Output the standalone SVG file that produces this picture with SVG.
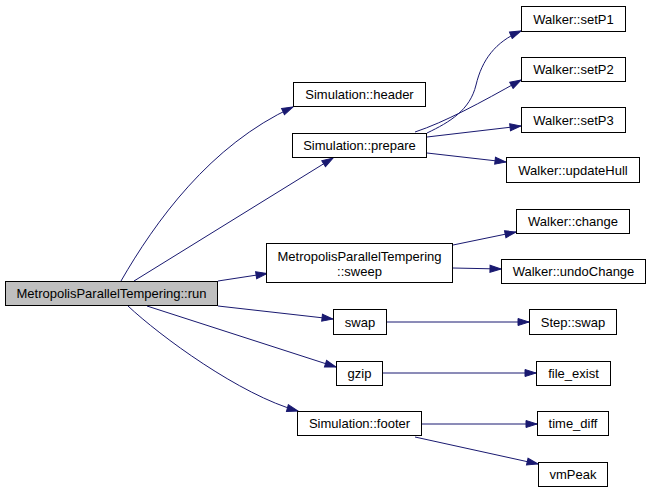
<svg xmlns="http://www.w3.org/2000/svg" width="651" height="493" viewBox="0 0 651 493">
<style>
  .box { fill: #ffffff; stroke: #000000; stroke-width: 1; }
  .main { fill: #bfbfbf; stroke: #000000; stroke-width: 1; }
  text { font-family: "Liberation Sans", Arial, sans-serif; font-size: 13px; fill: #000000; text-anchor: middle; }
  .edge { fill: none; stroke: #191970; stroke-width: 1; }
</style>
<defs>
  <marker id="arr" markerUnits="userSpaceOnUse" viewBox="-1 -1 13 9" refX="11" refY="3.5" markerWidth="13" markerHeight="9" orient="auto">
    <path d="M0,0 L11,3.5 L0,7 z" fill="#191970" stroke="#191970" stroke-width="1"/>
  </marker>
</defs>
<rect width="651" height="493" fill="#ffffff"/>
<g id="edges">
  <path class="edge" marker-end="url(#arr)" d="M121,281 C155,222 210,145 293,107"/>
  <path class="edge" marker-end="url(#arr)" d="M134,281 L333,158"/>
  <path class="edge" marker-end="url(#arr)" d="M218,281 L267,273.5"/>
  <path class="edge" marker-end="url(#arr)" d="M218,306 L333,319"/>
  <path class="edge" marker-end="url(#arr)" d="M147,306 L336,367"/>
  <path class="edge" marker-end="url(#arr)" d="M128,306 C160,336 240,395 298,411"/>
  <path class="edge" marker-end="url(#arr)" d="M427,133 C450,122 470,110 476,85 C482,60 495,42 521,31"/>
  <path class="edge" marker-end="url(#arr)" d="M415,132 C445,122 480,103 521,80"/>
  <path class="edge" marker-end="url(#arr)" d="M427,137 L521,126"/>
  <path class="edge" marker-end="url(#arr)" d="M427,153 L506,162"/>
  <path class="edge" marker-end="url(#arr)" d="M453,245 L516,232"/>
  <path class="edge" marker-end="url(#arr)" d="M453,268 L501,269"/>
  <path class="edge" marker-end="url(#arr)" d="M387,322 L529,322"/>
  <path class="edge" marker-end="url(#arr)" d="M383,373 L536,373"/>
  <path class="edge" marker-end="url(#arr)" d="M422,424 L537,424"/>
  <path class="edge" marker-end="url(#arr)" d="M415,437 L538,464"/>
</g>
<g id="run"><rect class="main" x="5.5" y="281.5" width="212" height="24"/><text x="111.5" y="298">MetropolisParallelTempering::run</text></g>
<g id="header"><rect class="box" x="293.5" y="82.5" width="132" height="24"/><text x="359.5" y="99">Simulation::header</text></g>
<g id="prepare"><rect class="box" x="292.5" y="133.5" width="134" height="24"/><text x="359.5" y="150">Simulation::prepare</text></g>
<g id="sweep"><rect class="box" x="266.5" y="243.5" width="186" height="39"/><text x="359.5" y="260.5">MetropolisParallelTempering</text><text x="359.5" y="276">::sweep</text></g>
<g id="swap"><rect class="box" x="333.5" y="309.5" width="53" height="25"/><text x="360" y="326.5">swap</text></g>
<g id="gzip"><rect class="box" x="336.5" y="361.5" width="46" height="24"/><text x="359.5" y="378">gzip</text></g>
<g id="footer"><rect class="box" x="297.5" y="411.5" width="124" height="24"/><text x="359.5" y="428">Simulation::footer</text></g>
<g id="setP1"><rect class="box" x="521.5" y="6.5" width="104" height="25"/><text x="573.5" y="23.5">Walker::setP1</text></g>
<g id="setP2"><rect class="box" x="521.5" y="57.5" width="104" height="24"/><text x="573.5" y="74">Walker::setP2</text></g>
<g id="setP3"><rect class="box" x="521.5" y="107.5" width="104" height="25"/><text x="573.5" y="124.5">Walker::setP3</text></g>
<g id="updateHull"><rect class="box" x="506.5" y="157.5" width="133" height="25"/><text x="573" y="174.5">Walker::updateHull</text></g>
<g id="change"><rect class="box" x="516.5" y="209.5" width="113" height="24"/><text x="573" y="226">Walker::change</text></g>
<g id="undoChange"><rect class="box" x="501.5" y="259.5" width="144" height="24"/><text x="573.5" y="276">Walker::undoChange</text></g>
<g id="stepswap"><rect class="box" x="529.5" y="309.5" width="87" height="25"/><text x="573" y="326.5">Step::swap</text></g>
<g id="file_exist"><rect class="box" x="536.5" y="361.5" width="74" height="24"/><text x="573.5" y="378">file_exist</text></g>
<g id="time_diff"><rect class="box" x="537.5" y="411.5" width="71" height="24"/><text x="573" y="428">time_diff</text></g>
<g id="vmPeak"><rect class="box" x="538.5" y="462.5" width="69" height="24"/><text x="573" y="479">vmPeak</text></g>
</svg>
